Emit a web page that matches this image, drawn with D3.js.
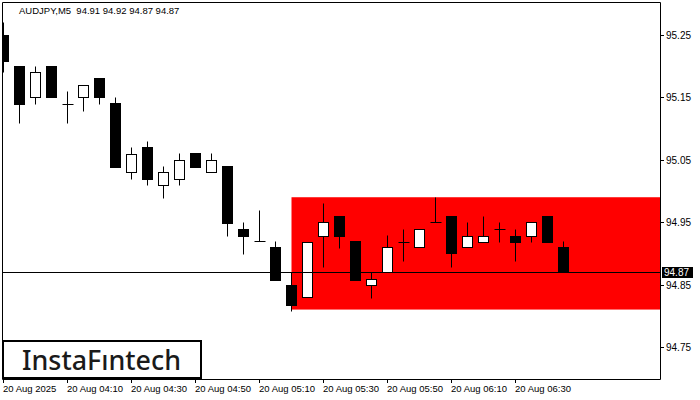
<!DOCTYPE html>
<html><head><meta charset="utf-8">
<script src="https://cdn.jsdelivr.net/npm/d3@7"></script>
<style>html,body{margin:0;padding:0;background:#fff}svg{display:block}</style>
</head><body>
<svg id="c" width="700" height="400"></svg>
<script>
const title = "AUDJPY,M5  94.91 94.92 94.87 94.87";
const opens  = [95.250,95.200,95.150,95.200,95.140,95.150,95.181,95.141,95.030,95.070,95.009,95.019,95.061,95.030,95.040,94.939,94.920,94.910,94.849,94.830,94.928,94.960,94.920,94.849,94.870,94.919,94.910,94.950,94.960,94.910,94.919,94.939,94.928,94.928,94.960,94.910];
const highs  = [95.271,95.200,95.200,95.200,95.160,95.170,95.181,95.151,95.070,95.080,95.040,95.061,95.061,95.061,95.040,94.950,94.970,94.920,94.870,94.919,94.980,94.960,94.920,94.870,94.929,94.939,94.939,94.990,94.960,94.950,94.960,94.950,94.939,94.950,94.960,94.920];
const lows   = [95.191,95.109,95.139,95.150,95.109,95.128,95.139,95.039,95.019,95.009,94.989,95.009,95.039,95.030,94.928,94.899,94.920,94.858,94.808,94.830,94.879,94.909,94.858,94.829,94.870,94.888,94.910,94.950,94.879,94.910,94.919,94.919,94.888,94.919,94.919,94.870];
const closes = [95.208,95.139,95.190,95.150,95.140,95.170,95.150,95.039,95.060,95.019,95.030,95.050,95.039,95.050,94.949,94.928,94.920,94.858,94.817,94.919,94.950,94.928,94.858,94.859,94.910,94.919,94.939,94.950,94.900,94.928,94.928,94.939,94.919,94.950,94.919,94.870];
const yTicks = [94.75, 94.85, 94.95, 95.05, 95.15, 95.25];
const xTickIdx = [0, 4, 8, 12, 16, 20, 24, 28, 32];
const xTickLabels = ["20 Aug 2025","20 Aug 04:10","20 Aug 04:30","20 Aug 04:50","20 Aug 05:10","20 Aug 05:30","20 Aug 05:50","20 Aug 06:10","20 Aug 06:30"];
const lastPrice = 94.87;
const zoneStartIdx = 18, zoneTop = 94.99, zoneBottom = 94.81;
const logoText = "InstaF\u0131ntech";

const svg = d3.select("#c");
const L = 2, R = 660, T = 2, B = 379;
const x = d3.scaleLinear().domain([0, 41]).range([3.5, 659.5]);
const y = d3.scaleLinear().domain([94.70, 95.30]).range([378.2, 3.8]);
const py = v => Math.round(y(v)) + 0.5;

svg.append("defs").append("clipPath").attr("id","pc")
  .append("rect").attr("x", L+1).attr("y", T+1).attr("width", R-L-1).attr("height", B-T-1);

const g = svg.append("g").attr("clip-path","url(#pc)");

// zone rectangle
g.append("rect")
  .attr("x", x(zoneStartIdx)).attr("y", y(zoneTop))
  .attr("width", R - x(zoneStartIdx)).attr("height", y(zoneBottom) - y(zoneTop))
  .attr("fill", "#ff0000");

const data = opens.map((o,i)=>({i, o, h:highs[i], l:lows[i], c:closes[i]}));
const cg = g.append("g");
data.forEach(d => {
  const cx = x(d.i);
  const top = py(Math.max(d.o,d.c)), bot = py(Math.min(d.o,d.c));
  cg.append("line").attr("x1",cx).attr("x2",cx).attr("y1",py(d.h)).attr("y2",py(d.l))
    .attr("stroke","#000").attr("stroke-width",1);
  if (Math.abs(top-bot) < 1) {
    cg.append("line").attr("x1",cx-5).attr("x2",cx+6).attr("y1",top).attr("y2",top)
      .attr("stroke","#000").attr("stroke-width",1);
  } else {
    cg.append("rect").attr("x",cx-5).attr("y",top).attr("width",10).attr("height",bot-top)
      .attr("fill", d.c >= d.o ? "#fff" : "#000").attr("stroke","#000").attr("stroke-width",1);
  }
});

// last price line
g.append("line").attr("x1",L).attr("x2",R).attr("y1",py(lastPrice)-0.0).attr("y2",py(lastPrice))
  .attr("stroke","#000").attr("stroke-width",1);

// border
svg.append("path").attr("d", `M${L+0.5},${B+0.5}V${T+0.5}H${R+0.5}V${B+0.5}H${L+0.5}`)
  .attr("fill","none").attr("stroke","#000").attr("stroke-width",1);

// y axis
const fontFam = "'Liberation Sans', Arial, sans-serif";
yTicks.forEach(v => {
  const yy = py(v);
  svg.append("line").attr("x1",R+1).attr("x2",R+4).attr("y1",yy).attr("y2",yy).attr("stroke","#000");
  svg.append("text").attr("x",R+6).attr("y",yy+3.5).text(v.toFixed(2))
    .attr("font-family",fontFam).attr("font-size","10px").attr("fill","#000");
});

// price label
const lp = py(lastPrice);
svg.append("rect").attr("x",R+2).attr("y",lp-5.5).attr("width",31).attr("height",11).attr("fill","#000");
svg.append("text").attr("x",R+4).attr("y",lp+3.5).text(lastPrice.toFixed(2))
  .attr("font-family",fontFam).attr("font-size","10px").attr("fill","#fff");

// x axis
xTickIdx.forEach((idx,k) => {
  const xx = Math.floor(x(idx)) + 0.5;
  svg.append("line").attr("x1",xx).attr("x2",xx).attr("y1",B+1).attr("y2",B+4).attr("stroke","#000");
  svg.append("text").attr("x",xx-0.5).attr("y",392).text(xTickLabels[k])
    .attr("font-family",fontFam).attr("font-size","9.5px").attr("fill","#000");
});

// title
svg.append("text").attr("x",19).attr("y",14).text(title).attr("xml:space","preserve")
  .style("white-space","pre")
  .attr("font-family",fontFam).attr("font-size","9.5px").attr("fill","#000");

// logo
svg.append("rect").attr("x",3).attr("y",341).attr("width",198).attr("height",37)
  .attr("fill","#fff").attr("stroke","#000").attr("stroke-width",2);
svg.append("text").attr("x",22).attr("y",369.5).text(logoText)
  .attr("font-family","'Noto Sans', 'Open Sans', sans-serif").attr("font-weight",500)
  .attr("font-size","27px").attr("fill","#1a1a1a")
  .attr("textLength",159).attr("lengthAdjust","spacingAndGlyphs");
</script>
</body></html>
